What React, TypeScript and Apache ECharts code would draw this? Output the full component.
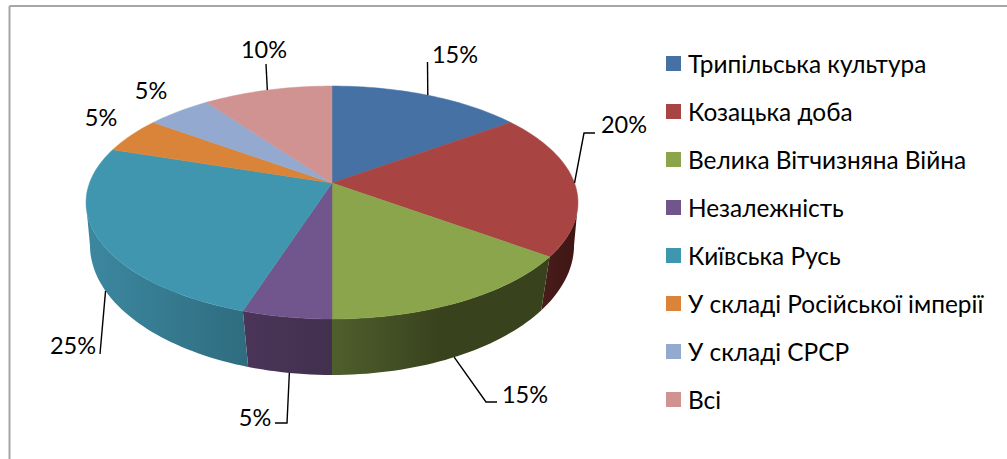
import React, { useEffect, useRef } from "react";
import * as echarts from "echarts";

const categories = ["Трипільська культура", "Козацька доба", "Велика Вітчизняна Війна", "Незалежність", "Київська Русь", "У складі Російської імперії", "У складі СРСР", "Всі"];
const shares = [15, 20, 15, 5, 25, 5, 5, 10];
const topColors = ["#4571a5", "#a84442", "#8aa54b", "#71558d", "#4096ae", "#da843a", "#93a9cf", "#d09392"];
const wallLeft = ["#4571a5", "#481d1a", "#4f5f2c", "#4a3558", "#3c88a0", "#da843a", "#93a9cf", "#d09392"];
const wallRight = ["#4571a5", "#3f1614", "#38421d", "#42304f", "#2f6c7f", "#da843a", "#93a9cf", "#d09392"];
const wallRamp = [1, 1, 0.5, 1, 1, 1, 1, 1];

// label layout: [label x, label y], then the leader's further points
const labelAt: number[][] = [[455, 54], [624, 124], [525, 394], [255, 417], [73, 345], [101, 117], [151, 90], [264, 49]];
const leaderTail: number[][][] = [
  [[427.5, 62]],
  [[584, 133], [595, 133]],
  [[486, 402], [497, 402]],
  [[287, 423], [275, 423]],
  [[100, 354]],
  [],
  [],
  [[266, 64]],
];

const FONT = "Lato, 'Open Sans', sans-serif";
const CX = 332;
const topRim = { cy: 183, a: 242.5, b: 113.2, k: 0.1674 };
const lowRim = { cy: 229.4, a: 240.3, b: 128.1, k: 0.12 };
const total = shares.reduce((s, v) => s + v, 0);

function project(rim: typeof topRim, deg: number): number[] {
  const t = (deg * Math.PI) / 180;
  const u = Math.sin(t);
  const v = Math.cos(t);
  const w = 1 + rim.k * v;
  return [CX + (rim.a * u) / w, rim.cy - (rim.b * v) / w];
}

function arc(rim: typeof topRim, from: number, to: number): number[][] {
  const pts: number[][] = [];
  const n = Math.max(2, Math.ceil(Math.abs(to - from) / 1.5));
  for (let i = 0; i <= n; i++) pts.push(project(rim, from + ((to - from) * i) / n));
  return pts;
}

function sliceRenderer(i: number) {
  return (_params: any, api: any) => {
    const before = shares.slice(0, i).reduce((s, v) => s + v, 0);
    const start = (before / total) * 360;
    const end = start + (api.value(0) / total) * 360;
    const mid = (start + end) / 2;
    const children: any[] = [];

    if (Math.min(end, 260) > Math.max(start, 100)) {
      const upper = arc(topRim, Math.max(start, 100), Math.min(end, 260));
      const lower = arc(lowRim, Math.max(start, 97), Math.min(end, 263)).reverse();
      const xs = upper.concat(lower).map((p) => p[0]);
      const x0 = Math.min(...xs);
      const x1 = Math.max(...xs);
      children.push({
        type: "polygon",
        shape: { points: upper.concat(lower) },
        style: {
          fill: new echarts.graphic.LinearGradient(x0, 0, x1, 0, [
            { offset: 0, color: wallLeft[i] },
            { offset: wallRamp[i], color: wallRight[i] },
            { offset: 1, color: wallRight[i] },
          ], true),
        },
      });
    }

    children.push({
      type: "polygon",
      shape: { points: [[CX, topRim.cy], ...arc(topRim, start, end)] },
      style: { fill: topColors[i], stroke: topColors[i], lineWidth: 0.5 },
    });

    const tail = leaderTail[i];
    if (tail.length) {
      const frontWall = mid > 100 && mid < 260;
      const head = project(frontWall ? lowRim : topRim, mid);
      children.push({
        type: "polyline",
        shape: { points: [head, ...tail] },
        style: { stroke: "#000000", lineWidth: 1.4, fill: "none" },
        z2: 5,
      });
    }

    children.push({
      type: "text",
      style: {
        x: labelAt[i][0],
        y: labelAt[i][1],
        text: `${shares[i]}%`,
        align: "center",
        verticalAlign: "middle",
        fontFamily: FONT,
        fontSize: 23.5,
        fill: "#000000",
      },
      z2: 6,
    });

    return { type: "group", children };
  };
}

export default function App() {
  const ref = useRef<HTMLDivElement>(null);
  useEffect(() => {
    const chart = echarts.init(ref.current!, undefined, { renderer: "svg" });
    chart.setOption({
      animation: false,
      backgroundColor: "#ffffff",
      legend: {
        orient: "vertical",
        left: 661,
        top: 46,
        itemWidth: 15,
        itemHeight: 15,
        itemGap: 23,
        selectedMode: false,
        icon: "rect",
        data: categories,
        textStyle: { fontFamily: FONT, fontSize: 24.4, color: "#000000", padding: [0, 0, 0, 2], lineHeight: 25 },
      },
      graphic: [
        { type: "line", shape: { x1: 9.5, y1: 6, x2: 1007, y2: 6 }, style: { stroke: "#a6a6a6", lineWidth: 2 } },
        { type: "line", shape: { x1: 9.5, y1: 6, x2: 9.5, y2: 459 }, style: { stroke: "#a6a6a6", lineWidth: 2 } },
      ],
      series: categories.map((name, i) => ({
        type: "custom",
        name,
        coordinateSystem: "none",
        silent: true,
        itemStyle: { color: topColors[i] },
        data: [[shares[i]]],
        renderItem: sliceRenderer(i),
      })),
    });
    return () => chart.dispose();
  }, []);
  return <div ref={ref} style={{ position: "absolute", left: 0, top: 0, width: 1007, height: 459 }} />;
}
